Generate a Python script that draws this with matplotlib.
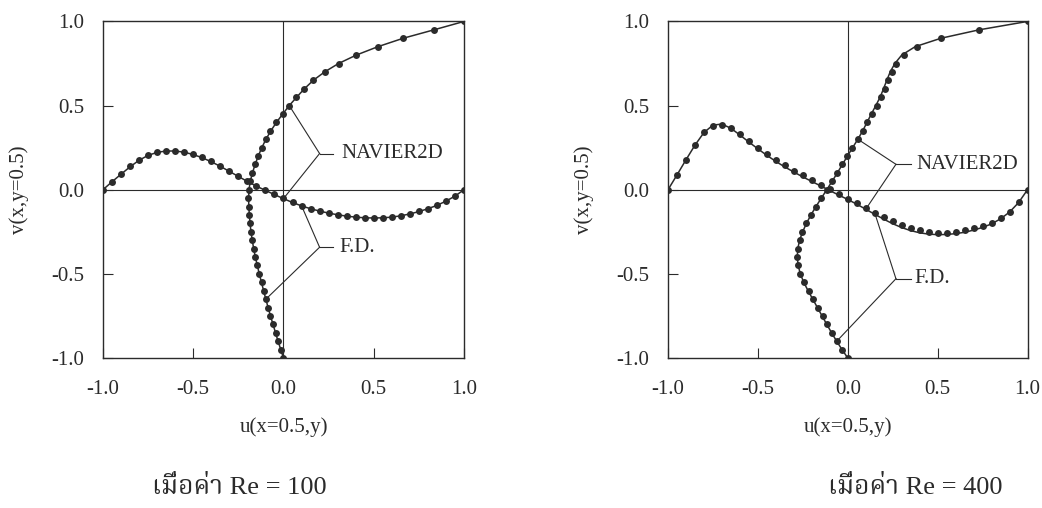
import matplotlib
matplotlib.use('Agg')
import matplotlib.pyplot as plt
from matplotlib.ticker import FormatStrFormatter

plt.rcParams['font.family'] = ['Liberation Serif', 'Noto Serif Thai', 'Noto Sans Thai',
                               'Loma', 'Garuda', 'Norasi', 'DejaVu Sans']
plt.rcParams['axes.unicode_minus'] = False

# ====================== DATA ======================
# grid coordinate (x for v-profile, y for u-profile)
grid_pts = [-1.00, -0.95, -0.90, -0.85, -0.80, -0.75, -0.70, -0.65, -0.60, -0.55,
            -0.50, -0.45, -0.40, -0.35, -0.30, -0.25, -0.20, -0.15, -0.10, -0.05,
            0.00, 0.05, 0.10, 0.15, 0.20, 0.25, 0.30, 0.35, 0.40, 0.45,
            0.50, 0.55, 0.60, 0.65, 0.70, 0.75, 0.80, 0.85, 0.90, 0.95, 1.00]

# Re = 100
fd100_u = [0.000, -0.015, -0.029, -0.044, -0.058, -0.072, -0.085, -0.097, -0.109, -0.121,
           -0.133, -0.145, -0.156, -0.165, -0.173, -0.180, -0.186, -0.190, -0.193, -0.195,
           -0.192, -0.185, -0.172, -0.157, -0.140, -0.121, -0.098, -0.072, -0.040, -0.005,
           0.031, 0.072, 0.115, 0.164, 0.228, 0.305, 0.403, 0.523, 0.663, 0.833, 1.000]
fd100_v = [0.000, 0.048, 0.093, 0.138, 0.176, 0.205, 0.222, 0.231, 0.232, 0.225,
           0.211, 0.192, 0.168, 0.140, 0.110, 0.080, 0.050, 0.022, -0.003, -0.028,
           -0.052, -0.075, -0.095, -0.112, -0.126, -0.138, -0.148, -0.156, -0.162, -0.166,
           -0.167, -0.166, -0.162, -0.154, -0.143, -0.129, -0.112, -0.092, -0.067, -0.037, 0.000]
nav100_u = [0.000, -0.015, -0.030, -0.044, -0.058, -0.072, -0.085, -0.098, -0.110, -0.122,
            -0.134, -0.145, -0.156, -0.165, -0.173, -0.180, -0.185, -0.189, -0.192, -0.193,
            -0.191, -0.184, -0.172, -0.157, -0.140, -0.120, -0.097, -0.070, -0.039, -0.004,
            0.032, 0.073, 0.116, 0.165, 0.228, 0.305, 0.403, 0.523, 0.663, 0.833, 1.000]
nav100_v = [0.000, 0.047, 0.092, 0.136, 0.175, 0.204, 0.222, 0.230, 0.230, 0.223,
            0.209, 0.190, 0.166, 0.139, 0.109, 0.079, 0.049, 0.021, -0.004, -0.029,
            -0.053, -0.076, -0.096, -0.113, -0.127, -0.139, -0.149, -0.157, -0.163, -0.167,
            -0.168, -0.167, -0.163, -0.155, -0.144, -0.130, -0.113, -0.093, -0.068, -0.038, 0.000]

# Re = 400
fd400_u = [0.000, -0.032, -0.061, -0.089, -0.115, -0.140, -0.166, -0.192, -0.218, -0.243,
           -0.263, -0.275, -0.280, -0.278, -0.268, -0.252, -0.232, -0.207, -0.178, -0.148,
           -0.118, -0.088, -0.059, -0.031, -0.004, 0.025, 0.055, 0.083, 0.108, 0.134,
           0.162, 0.187, 0.207, 0.226, 0.245, 0.270, 0.314, 0.384, 0.518, 0.730, 1.000]
fd400_v = [0.000, 0.085, 0.178, 0.268, 0.340, 0.380, 0.387, 0.368, 0.332, 0.290,
           0.250, 0.212, 0.175, 0.144, 0.113, 0.085, 0.056, 0.029, 0.002, -0.028,
           -0.054, -0.080, -0.110, -0.138, -0.164, -0.188, -0.210, -0.227, -0.242, -0.251,
           -0.255, -0.255, -0.249, -0.241, -0.230, -0.216, -0.197, -0.168, -0.130, -0.075, 0.000]
nav400_u = [0.000, -0.032, -0.062, -0.090, -0.117, -0.143, -0.169, -0.195, -0.221, -0.245,
            -0.264, -0.276, -0.281, -0.278, -0.268, -0.251, -0.230, -0.205, -0.177, -0.147,
            -0.117, -0.087, -0.058, -0.030, -0.002, 0.027, 0.056, 0.083, 0.107, 0.131,
            0.156, 0.180, 0.199, 0.217, 0.236, 0.262, 0.300, 0.375, 0.518, 0.730, 1.000]
nav400_v = [0.000, 0.088, 0.178, 0.265, 0.340, 0.384, 0.390, 0.365, 0.325, 0.283,
            0.243, 0.204, 0.168, 0.135, 0.105, 0.076, 0.049, 0.022, -0.005, -0.032,
            -0.058, -0.086, -0.116, -0.146, -0.175, -0.202, -0.225, -0.243, -0.256, -0.264,
            -0.267, -0.266, -0.261, -0.253, -0.240, -0.224, -0.203, -0.173, -0.133, -0.077, 0.000]

tick_vals = [-1.0, -0.5, 0.0, 0.5, 1.0]
titles = ['เมื่อค่า Re = 100', 'เมื่อค่า Re = 400']

INK = '#2b2b2b'


def draw_panel(ax, nav_u, nav_v, fd_u, fd_v, labels):
    # reference lines through zero
    ax.axhline(0, color=INK, lw=0.8, zorder=1)
    ax.axvline(0, color=INK, lw=0.8, zorder=1)

    # NAVIER2D solid lines, F.D. dots
    ax.plot(nav_u, grid_pts, color=INK, lw=1.1, zorder=2)
    ax.plot(grid_pts, nav_v, color=INK, lw=1.1, zorder=2)
    ax.plot(fd_u, grid_pts, 'o', color=INK, ms=5.0, mew=0, zorder=3)
    ax.plot(grid_pts, fd_v, 'o', color=INK, ms=5.0, mew=0, zorder=3)

    # bracket-style labels
    for name, vx, vy, tail, tx, ends in labels:
        for ex, ey in ends:
            ax.plot([vx, ex], [vy, ey], color=INK, lw=0.8, zorder=2)
        ax.plot([vx, tail], [vy, vy], color=INK, lw=0.8, zorder=2)
        ax.text(tx, vy, name, ha='left', va='center', fontsize=15, color=INK)

    ax.set_xlim(-1, 1)
    ax.set_ylim(-1, 1)
    ax.set_xticks(tick_vals)
    ax.set_yticks(tick_vals)
    ax.xaxis.set_major_formatter(FormatStrFormatter('%.1f'))
    ax.yaxis.set_major_formatter(FormatStrFormatter('%.1f'))
    ax.tick_params(axis='both', direction='in', length=7.5, width=0.8,
                   labelsize=15, colors=INK)
    ax.tick_params(axis='x', pad=16)
    ax.tick_params(axis='y', pad=13.5)
    for sp in ax.spines.values():
        sp.set_linewidth(1.0)
        sp.set_color(INK)

    ax.set_xlabel('u(x=0.5,y)', fontsize=15, color=INK, va='center')
    ax.set_ylabel('v(x,y=0.5)', fontsize=15, color=INK, va='center')
    ax.xaxis.set_label_coords(0.5, -0.205)
    ax.yaxis.set_label_coords(-0.233, 0.5)


fig = plt.figure(figsize=(10.42, 5.08), dpi=100)
ax1 = fig.add_axes([0.0988, 0.2953, 0.3465, 0.6625])
ax2 = fig.add_axes([0.6411, 0.2953, 0.3450, 0.6625])

draw_panel(ax1, nav100_u, nav100_v, fd100_u, fd100_v, [
    ('NAVIER2D', 0.20, 0.215, 0.274, 0.32,
     [(nav100_u[30], grid_pts[30]), (grid_pts[20], nav100_v[20])]),
    ('F.D.', 0.20, -0.342, 0.274, 0.31,
     [(grid_pts[22], fd100_v[22]), (fd100_u[7], grid_pts[7])]),
])
draw_panel(ax2, nav400_u, nav400_v, fd400_u, fd400_v, [
    ('NAVIER2D', 0.268, 0.151, 0.351, 0.38,
     [(nav400_u[26], grid_pts[26]), (grid_pts[22], nav400_v[22])]),
    ('F.D.', 0.268, -0.529, 0.351, 0.37,
     [(grid_pts[23], fd400_v[23]), (fd400_u[2], grid_pts[2])]),
])

fig.text(0.2294, 0.041, titles[0], ha='center', va='center', fontsize=19, color=INK)
fig.text(0.878, 0.041, titles[1], ha='center', va='center', fontsize=19, color=INK)

fig.savefig('out.png', dpi=100, facecolor='white')
plt.close(fig)
